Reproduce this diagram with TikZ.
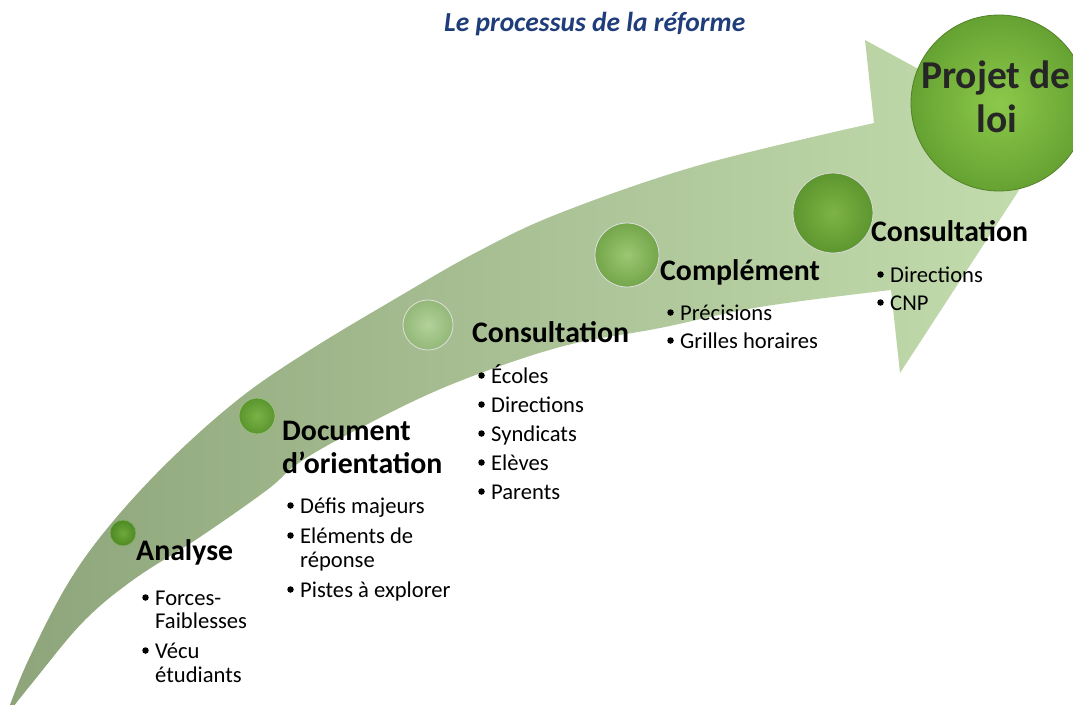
\documentclass[tikz,border=0pt]{standalone}
\usepackage{fontspec}
\setmainfont{Carlito}
\definecolor{bandL}{HTML}{8EA57B}
\definecolor{bandR}{HTML}{C4DDAE}
\definecolor{titleblue}{HTML}{1F3D7A}
\definecolor{textdark}{HTML}{262626}
\definecolor{b1i}{HTML}{6DA83A}\definecolor{b1o}{HTML}{4E8A24}
\definecolor{b2i}{HTML}{7AB246}\definecolor{b2o}{HTML}{5A952E}
\definecolor{b3i}{HTML}{B2D19A}\definecolor{b3o}{HTML}{93B878}
\definecolor{b4i}{HTML}{9CC673}\definecolor{b4o}{HTML}{74A64A}
\definecolor{b5i}{HTML}{7DB444}\definecolor{b5o}{HTML}{5D962F}
\definecolor{bgi}{HTML}{8CC94A}\definecolor{bgo}{HTML}{66A232}
\tikzset{
  ball/.style={circle, inner sep=0pt, draw=#1, line width=0.8pt},
  heading/.style={anchor=base west, inner sep=0pt, font=\fontsize{29.8}{33}\selectfont\bfseries, text=black},
  bul/.style={circle, fill=black, inner sep=0pt, minimum size=6.5pt},
  btxt/.style={anchor=base west, inner sep=0pt, font=\fontsize{22.6}{26}\selectfont, text=black},
  bigtxt/.style={anchor=base, inner sep=0pt, font=\fontsize{39.5}{44}\selectfont\bfseries, text=textdark},
}
\newcommand\bitem[4]{\node[bul] (#1b) at ({#2+4.5},{#3-7.5}) {}; \node[btxt] (#1) at ({#2+14},#3) {#4};}
\begin{document}
\begin{tikzpicture}[x=1pt,y=-1pt]
\useasboundingbox (0,0) rectangle (1073,704);
\clip (0,0) rectangle (1073,704);
% curved arrow
\shade[left color=bandL, right color=bandR]
  (6,716) -- plot[smooth, tension=0.6] coordinates {(6,716) (27,663) (67,585) (110,525) (170,460) (240,398) (310,350) (400,296) (477,252) (560,213) (700,165) (874,123)}
  -- (865,40) -- (1051,141) -- (900,373) --
  plot[smooth, tension=0.6] coordinates {(891,290) (760,307) (660,328) (560,347) (450,385) (360,428) (300,462) (267,490) (200,537) (133,580) (83,622) (33,682) (6,716)}
  -- cycle;
% title
\node[anchor=base west, inner sep=0pt, font=\fontsize{27.5}{30}\selectfont\bfseries\itshape, text=titleblue] (title) at (444,31) {Le processus de la réforme};
% balls
\node[ball=b1o!70!white, minimum size=26pt, inner color=b1i, outer color=b1o] (c1) at (123,533) {};
\node[ball=b2o!60!white, minimum size=36pt, inner color=b2i, outer color=b2o] (c2) at (257,416) {};
\node[ball=white!75!gray, minimum size=50pt, inner color=b3i, outer color=b3o] (c3) at (428,325) {};
\node[ball=white!75!gray, minimum size=64pt, inner color=b4i, outer color=b4o] (c4) at (627,255) {};
\node[ball=white!70!gray, minimum size=80pt, inner color=b5i, outer color=b5o] (c5) at (833,213) {};
\node[ball=bgo!80!black, minimum size=176pt, inner color=bgi, outer color=bgo] (big) at (999,103) {};
\node[bigtxt] (pj1) at (996,88) {Projet de};
\node[bigtxt] (pj2) at (997,132) {loi};
% Analyse
\node[heading] (h1) at (136,560) {Analyse};
\bitem{a1}{141}{605}{Forces-}
\node[btxt] (a1b2) at (155,628) {Faiblesses};
\bitem{a2}{141}{658}{Vécu}
\node[btxt] (a2b2) at (155,682) {étudiants};
% Document
\node[heading] (h2) at (282,440) {Document};
\node[heading] (h2b) at (282,473) {d’orientation};
\bitem{d1}{286}{513}{Défis majeurs}
\bitem{d2}{286}{543}{Eléments de}
\node[btxt] (d2b2) at (300,567) {réponse};
\bitem{d3}{286}{597}{Pistes à explorer}
% Consultation
\node[heading] (h3) at (472,342) {Consultation};
\bitem{e1}{477}{383}{Écoles}
\bitem{e2}{477}{412}{Directions}
\bitem{e3}{477}{441}{Syndicats}
\bitem{e4}{477}{470}{Elèves}
\bitem{e5}{477}{499}{Parents}
% Complément
\node[heading] (h4) at (660,280) {Complément};
\bitem{p1}{666}{320}{Précisions}
\bitem{p2}{666}{348}{Grilles horaires}
% Consultation 2
\node[heading] (h5) at (871,241) {Consultation};
\bitem{k1}{876}{282}{Directions}
\bitem{k2}{876}{310}{CNP}
\end{tikzpicture}
\end{document}
